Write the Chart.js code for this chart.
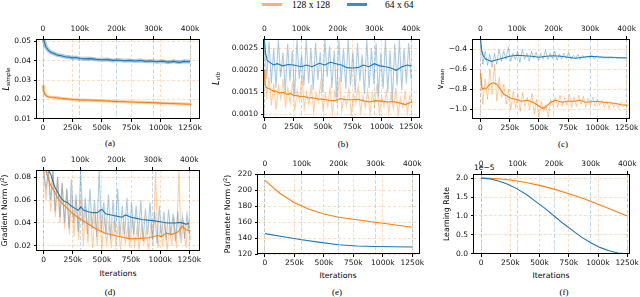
<!DOCTYPE html>
<html>
<head>
<meta charset="utf-8">
<script src="https://cdn.jsdelivr.net/npm/chart.js@4.4.0/dist/chart.umd.min.js"></script>
<style>
  body { margin: 0; background: #fff; }
  #fig { position: relative; width: 640px; height: 297px; overflow: hidden; font-family: "DejaVu Sans", sans-serif; }
  #fig canvas { position: absolute; }
  .cap { position: absolute; font-family: "Liberation Serif", serif; font-size: 9px; transform: translate(-50%, -50%); white-space: nowrap; }
  .xl { position: absolute; font-size: 7.8px; transform: translate(-50%, -50%); white-space: nowrap; }
  .sw { position: absolute; height: 3px; width: 20px; }
  .lt { position: absolute; font-family: "Liberation Serif", serif; font-size: 9.5px; transform: translateY(-50%); white-space: nowrap; }
  .off { position: absolute; font-size: 7.5px; transform: translateY(-50%); white-space: nowrap; }
</style>
</head>
<body>
<div id="fig">
  <div class="sw" style="left:262px; top:3px; background:rgba(255,127,14,0.6)"></div>
  <div class="lt" style="left:292px; top:5px">128 x 128</div>
  <div class="sw" style="left:347px; top:3px; background:rgba(31,119,180,0.85)"></div>
  <div class="lt" style="left:385px; top:5px">64 x 64</div>

  <div class="cap" style="left:110px; top:143px">(a)</div>
  <div class="cap" style="left:343px; top:144px">(b)</div>
  <div class="cap" style="left:563px; top:144px">(c)</div>
  <div class="cap" style="left:110px; top:292px">(d)</div>
  <div class="cap" style="left:337px; top:292px">(e)</div>
  <div class="cap" style="left:564px; top:292px">(f)</div>

  <div class="xl" style="left:118px; top:273px">Iterations</div>
  <div class="xl" style="left:338px; top:275px">Iterations</div>
  <div class="xl" style="left:551px; top:275px">Iterations</div>
  <div class="off" style="left:474px; top:167px">1e−5</div>
</div>
<script>
'use strict'

const ORANGE = '#ff7f0e';
const BLUE = '#1f77b4';
const ORANGE_L = 'rgba(255,127,14,0.38)';
const BLUE_L = 'rgba(31,119,180,0.38)';

// x ticks, thousands of iterations: bottom = 128x128, top = 64x64
const bottomTicks = [0, 250, 500, 750, 1000, 1250];
const topTicks = [0, 100, 200, 300, 400];
const TOP_RATIO = 0.32; // 400k on top lines up with 1250k on bottom

// raw log spacing (k iterations)
const rawStepOrange = 20;
const rawStepBlue = 6.35;

// (a) L_simple
const aTicks = [0.01, 0.02, 0.03, 0.04, 0.05];
const aOrangeX = [0, 5, 15, 30, 50, 75, 100, 150, 200, 250, 300, 400, 500, 600, 700, 800, 900, 1000, 1100, 1200, 1260];
const aOrangeY = [0.0272, 0.0245, 0.0228, 0.0218, 0.0213, 0.0211, 0.0210, 0.0206, 0.0203, 0.0200, 0.0198, 0.0196, 0.0193, 0.0190, 0.0188, 0.0186, 0.0184, 0.0181, 0.0179, 0.0177, 0.0175];
const aBlueX = [0, 3, 8, 15, 22, 30, 40, 50, 60, 70, 80, 90, 100, 115, 130, 145, 160, 175, 190, 205, 220, 235, 250, 265, 280, 295, 310, 325, 340, 355, 370, 385, 400];
const aBlueY = [0.054, 0.050, 0.0470, 0.0452, 0.0442, 0.0436, 0.0428, 0.0425, 0.0420, 0.0418, 0.0414, 0.0416, 0.0411, 0.0409, 0.0410, 0.0406, 0.0404, 0.0405, 0.0401, 0.0403, 0.0399, 0.0401, 0.0398, 0.0400, 0.0396, 0.0398, 0.0394, 0.0397, 0.0392, 0.0396, 0.0391, 0.0396, 0.0394];

// (b) L_vlb
const bTicks = [0.0010, 0.0015, 0.0020, 0.0025];
const bOrangeX = [0, 5, 10, 20, 40, 60, 80, 100, 130, 160, 190, 220, 250, 280, 310, 340, 370, 400, 450, 500, 550, 600, 650, 700, 750, 800, 850, 900, 950, 1000, 1050, 1100, 1150, 1200, 1230, 1260];
const bOrangeY = [0.00200, 0.00170, 0.00163, 0.00160, 0.00158, 0.00155, 0.00152, 0.00153, 0.00148, 0.00150, 0.00145, 0.00147, 0.00143, 0.00142, 0.00140, 0.00141, 0.00137, 0.00138, 0.00135, 0.00134, 0.00132, 0.00131, 0.00136, 0.00133, 0.00133, 0.00134, 0.00130, 0.00128, 0.00131, 0.00130, 0.00128, 0.00129, 0.00126, 0.00122, 0.00125, 0.00128];
const bBlueX = [0, 3, 8, 15, 25, 35, 50, 65, 80, 100, 115, 130, 150, 165, 180, 195, 210, 225, 240, 255, 270, 285, 300, 315, 330, 345, 360, 375, 390, 400];
const bBlueY = [0.00270, 0.00240, 0.00222, 0.00218, 0.00212, 0.00215, 0.00210, 0.00213, 0.00212, 0.00208, 0.00212, 0.00208, 0.00216, 0.00212, 0.00218, 0.00215, 0.00212, 0.00206, 0.00205, 0.00206, 0.00212, 0.00208, 0.00215, 0.00210, 0.00208, 0.00205, 0.00200, 0.00208, 0.00212, 0.00210];
const bOrangeRaw = [0.00200, 0.00140, 0.00185, 0.00120, 0.00170, 0.00110, 0.00165, 0.00135, 0.00180, 0.00115,
  0.00160, 0.00125, 0.00175, 0.00108, 0.00155, 0.00130, 0.00190, 0.00112, 0.00150, 0.00122,
  0.00168, 0.00105, 0.00148, 0.00128, 0.00172, 0.00110, 0.00145, 0.00118, 0.00160, 0.00102,
  0.00150, 0.00125, 0.00185, 0.00108, 0.00140, 0.00120, 0.00158, 0.00100, 0.00145, 0.00126,
  0.00165, 0.00105, 0.00142, 0.00115, 0.00155, 0.00102, 0.00148, 0.00120, 0.00170, 0.00100,
  0.00140, 0.00118, 0.00152, 0.00104, 0.00145, 0.00112, 0.00160, 0.00098, 0.00138, 0.00115,
  0.00150, 0.00103, 0.00142, 0.00125];
const bBlueRaw = [0.00270, 0.00180, 0.00265, 0.00170, 0.00250, 0.00160, 0.00270, 0.00185, 0.00240, 0.00150,
  0.00260, 0.00175, 0.00245, 0.00140, 0.00270, 0.00180, 0.00235, 0.00165, 0.00270, 0.00170,
  0.00250, 0.00155, 0.00262, 0.00178, 0.00240, 0.00150, 0.00270, 0.00185, 0.00255, 0.00160,
  0.00245, 0.00138, 0.00268, 0.00172, 0.00250, 0.00158, 0.00270, 0.00165, 0.00242, 0.00150,
  0.00262, 0.00175, 0.00235, 0.00145, 0.00270, 0.00160, 0.00250, 0.00170, 0.00262, 0.00140,
  0.00240, 0.00158, 0.00270, 0.00150, 0.00245, 0.00130, 0.00260, 0.00165, 0.00270, 0.00155,
  0.00250, 0.00170, 0.00262, 0.00180];

// (c) v_mean
const cTicks = [-1.0, -0.8, -0.6, -0.4];
const cOrangeX = [0, 8, 15, 30, 50, 80, 110, 140, 170, 200, 230, 260, 300, 350, 400, 450, 500, 530, 560, 600, 640, 700, 750, 800, 850, 900, 950, 1000, 1050, 1100, 1150, 1200, 1260];
const cOrangeY = [-0.64, -0.72, -0.80, -0.79, -0.79, -0.75, -0.735, -0.75, -0.80, -0.85, -0.87, -0.89, -0.90, -0.92, -0.91, -0.93, -0.97, -0.99, -0.975, -0.93, -0.91, -0.93, -0.92, -0.92, -0.91, -0.93, -0.925, -0.92, -0.93, -0.935, -0.94, -0.955, -0.96];
const cBlueX = [0, 3, 6, 10, 15, 22, 30, 40, 50, 60, 80, 100, 120, 140, 160, 180, 200, 220, 240, 260, 280, 300, 320, 340, 360, 380, 400];
const cBlueY = [-0.30, -0.40, -0.45, -0.48, -0.50, -0.51, -0.52, -0.51, -0.50, -0.49, -0.47, -0.46, -0.465, -0.47, -0.48, -0.47, -0.465, -0.47, -0.48, -0.49, -0.48, -0.47, -0.475, -0.48, -0.48, -0.485, -0.485];
const cOrangeRaw = [-0.62, -0.95, -0.70, -0.90, -0.60, -0.85, -0.55, -0.92, -0.68, -0.88,
  -0.75, -0.95, -0.80, -1.00, -0.82, -0.98, -0.85, -1.02, -0.83, -0.97,
  -0.88, -1.00, -0.84, -1.05, -0.90, -1.08, -0.92, -1.02, -0.95, -1.08,
  -0.90, -0.96, -0.88, -0.98, -0.86, -0.97, -0.88, -0.96, -0.85, -0.98,
  -0.88, -0.97, -0.86, -0.95, -0.87, -0.98, -0.89, -0.96, -0.88, -0.97,
  -0.90, -0.96, -0.91, -0.98, -0.92, -0.99, -0.93, -0.98, -0.94, -0.99,
  -0.93, -0.98, -0.95, -0.97];
const cBlueRaw = [-0.30, -0.55, -0.42, -0.56, -0.45, -0.58, -0.44, -0.55, -0.40, -0.52,
  -0.42, -0.50, -0.38, -0.52, -0.44, -0.50, -0.42, -0.53, -0.40, -0.50,
  -0.44, -0.52, -0.42, -0.49, -0.43, -0.51, -0.44, -0.50, -0.41, -0.50,
  -0.44, -0.49, -0.42, -0.51, -0.45, -0.50, -0.44, -0.49, -0.43, -0.50,
  -0.46, -0.49, -0.45, -0.50, -0.46, -0.49, -0.47, -0.49, -0.46, -0.50,
  -0.47, -0.49, -0.48, -0.49, -0.48, -0.49, -0.48, -0.49, -0.48, -0.49,
  -0.485, -0.49, -0.485, -0.49];

// (d) gradient norm
const dTicks = [0.02, 0.04, 0.06, 0.08];
const dOrangeX = [0, 15, 35, 60, 90, 120, 150, 200, 250, 320, 400, 460, 530, 630, 700, 750, 830, 900, 980, 1010, 1050, 1100, 1150, 1190, 1220, 1260];
const dOrangeY = [0.095, 0.088, 0.080, 0.073, 0.068, 0.062, 0.058, 0.053, 0.048, 0.043, 0.038, 0.034, 0.031, 0.0285, 0.027, 0.026, 0.0265, 0.027, 0.029, 0.028, 0.031, 0.030, 0.032, 0.037, 0.034, 0.033];
const dBlueX = [0, 10, 19, 30, 40, 47, 56, 65, 75, 85, 95, 102, 110, 120, 135, 147, 160, 170, 185, 200, 215, 225, 240, 255, 270, 285, 300, 320, 340, 360, 375, 390, 400];
const dBlueY = [0.095, 0.088, 0.083, 0.072, 0.066, 0.062, 0.059, 0.058, 0.055, 0.053, 0.051, 0.054, 0.051, 0.050, 0.049, 0.049, 0.052, 0.048, 0.047, 0.046, 0.045, 0.047, 0.045, 0.044, 0.043, 0.0425, 0.042, 0.041, 0.040, 0.040, 0.0405, 0.039, 0.0395];
const dOrangeRaw = [0.086, 0.060, 0.086, 0.050, 0.086, 0.045, 0.080, 0.040, 0.075, 0.035,
  0.070, 0.030, 0.065, 0.028, 0.060, 0.025, 0.062, 0.020, 0.055, 0.022,
  0.050, 0.018, 0.048, 0.020, 0.052, 0.016, 0.045, 0.022, 0.040, 0.018,
  0.042, 0.020, 0.038, 0.016, 0.040, 0.022, 0.036, 0.018, 0.045, 0.020,
  0.035, 0.017, 0.038, 0.022, 0.034, 0.016, 0.040, 0.020, 0.086, 0.018,
  0.036, 0.022, 0.040, 0.016, 0.038, 0.020, 0.045, 0.018, 0.086, 0.022,
  0.040, 0.018, 0.042, 0.025];
const dBlueRaw = [0.086, 0.070, 0.086, 0.060, 0.086, 0.050, 0.080, 0.045, 0.075, 0.040,
  0.070, 0.035, 0.078, 0.040, 0.065, 0.032, 0.086, 0.038, 0.062, 0.030,
  0.070, 0.035, 0.060, 0.028, 0.086, 0.033, 0.058, 0.030, 0.065, 0.026,
  0.060, 0.032, 0.070, 0.028, 0.055, 0.030, 0.062, 0.025, 0.058, 0.030,
  0.055, 0.028, 0.060, 0.024, 0.052, 0.030, 0.058, 0.026, 0.050, 0.022,
  0.055, 0.028, 0.050, 0.025, 0.052, 0.030, 0.048, 0.024, 0.050, 0.028,
  0.046, 0.026, 0.048, 0.030];

// (e) parameter norm
const eTicks = [120, 140, 160, 180, 200, 220];
const eOrangeX = [0, 125, 250, 375, 500, 625, 750, 875, 1000, 1125, 1250];
const eOrangeY = [212, 196, 184, 176, 170, 166, 163.5, 161, 158.5, 156, 153.5];
const eBlueX = [0, 50, 100, 150, 200, 250, 300, 350, 400];
const eBlueY = [145.5, 141.5, 137.9, 134.5, 131.6, 130, 129.4, 129, 128.8];

// (f) learning rate, units of 1e-5
const fTicks = [0.0, 0.5, 1.0, 1.5, 2.0];
const fOrangeX = [0, 125, 250, 375, 500, 625, 750, 875, 1000, 1125, 1250];
const fOrangeY = [2.0, 1.99, 1.95, 1.89, 1.81, 1.71, 1.59, 1.46, 1.31, 1.16, 1.0];
const fBlueX = [0, 25, 50, 75, 100, 125, 150, 175, 200, 225, 250, 275, 300, 325, 350, 375, 400];
const fBlueY = [2.0, 1.98, 1.92, 1.83, 1.71, 1.56, 1.38, 1.20, 1.0, 0.80, 0.62, 0.44, 0.29, 0.17, 0.08, 0.02, 0.0];

const fig = document.getElementById('fig');
const panelCfg = {};
const Y_W = 62, TOP_H = 26, BOT_H = 18, PAD_R = 14;
const tickFont = { family: 'DejaVu Sans', size: 7.5 };

const pts = (xs, ys) => xs.map((x, i) => ({ x, y: ys[i] }));
const rawPts = (ys, step) => ys.map((y, i) => ({ x: i * step, y }));
const kLabel = v => v === 0 ? '0' : v + 'k';

function line(data, color, width, axis, order) {
  return { data, borderColor: color, borderWidth: width, xAxisID: axis, pointRadius: 0, tension: 0, clip: 0, order, fill: false };
}

// frame + y label with sub/superscripts
const figurePlugin = {
  id: 'figure',
  afterDatasetsDraw(chart) {
    const { ctx, chartArea: a } = chart;
    ctx.save();
    ctx.strokeStyle = '#000';
    ctx.lineWidth = 1;
    ctx.strokeRect(Math.round(a.left) - 0.5, Math.round(a.top) + 0.5, Math.round(a.right - a.left) + 1, Math.round(a.bottom - a.top) - 1);
    ctx.restore();
  },
  afterDraw(chart) {
    const cfg = panelCfg[chart.canvas.id];
    if (!cfg) return;
    const { ctx, chartArea: a } = chart;
    ctx.save();
    ctx.translate(cfg.ylabX - (cfg.l - Y_W), (a.top + a.bottom) / 2);
    ctx.rotate(-Math.PI / 2);
    ctx.fillStyle = '#000';
    ctx.textBaseline = 'middle';
    let total = 0;
    cfg.ylab.forEach(p => { ctx.font = p[1]; total += ctx.measureText(p[0]).width; });
    let x = -total / 2;
    cfg.ylab.forEach(p => {
      ctx.font = p[1];
      ctx.fillText(p[0], x, p[2] || 0);
      x += ctx.measureText(p[0]).width;
    });
    ctx.restore();
  }
};

function makePanel(p) {
  panelCfg[p.id] = p;
  const W = p.r - p.l + Y_W + PAD_R;
  const H = p.b - p.t + TOP_H + BOT_H;
  const cv = document.createElement('canvas');
  cv.id = p.id;
  cv.width = W;
  cv.height = H;
  cv.style.left = (p.l - Y_W) + 'px';
  cv.style.top = (p.t - TOP_H) + 'px';
  cv.style.width = W + 'px';
  cv.style.height = H + 'px';
  fig.appendChild(cv);

  const tickMark = { tickColor: '#000', tickLength: 3, tickWidth: 1, lineWidth: 0.8 };

  new Chart(cv, {
    type: 'line',
    data: { datasets: p.datasets },
    plugins: [figurePlugin],
    options: {
      responsive: false,
      animation: false,
      layout: { padding: { left: 0, right: PAD_R, top: 0, bottom: 0 } },
      plugins: { legend: { display: false }, tooltip: { enabled: false } },
      scales: {
        x: {
          type: 'linear', position: 'bottom', bounds: 'data', min: p.xMin, max: p.xMax,
          afterBuildTicks: s => { s.ticks = bottomTicks.map(v => ({ value: v })); },
          afterFit: s => { s.height = BOT_H; },
          ticks: { autoSkip: false, maxRotation: 0, padding: 2, font: tickFont, color: '#111', callback: kLabel },
          grid: Object.assign({ color: 'rgba(255,127,14,0.35)' }, tickMark),
          border: { display: false, dash: [3, 2] }
        },
        x2: {
          type: 'linear', position: 'top', bounds: 'data', min: p.xMin * TOP_RATIO, max: p.xMax * TOP_RATIO,
          afterBuildTicks: s => { s.ticks = topTicks.map(v => ({ value: v })); },
          afterFit: s => { s.height = TOP_H; },
          ticks: { autoSkip: false, maxRotation: 0, padding: 2.5, font: tickFont, color: '#111', callback: kLabel },
          grid: Object.assign({ color: 'rgba(31,119,180,0.35)' }, tickMark),
          border: { display: false, dash: [4, 2] }
        },
        y: {
          type: 'linear', position: 'left', bounds: 'data', min: p.yMin, max: p.yMax,
          afterBuildTicks: s => { s.ticks = p.yTicks.map(v => ({ value: v })); },
          afterFit: s => { s.width = Y_W; },
          ticks: { autoSkip: false, padding: 3, font: tickFont, color: '#111', callback: p.yFmt },
          grid: Object.assign({ color: 'rgba(255,127,14,0.35)' }, tickMark),
          border: { display: false, dash: [3, 2] }
        }
      }
    }
  });
}

const fmt = d => v => (v < 0 ? '\u2212' : '') + Math.abs(v).toFixed(d);
const F_MAIN = '7.8px "DejaVu Sans"';
const F_IT = 'italic 8px "DejaVu Sans"';
const F_SUB = 'italic 5.6px "DejaVu Sans"';
const F_SUP = '5.4px "DejaVu Sans"';

makePanel({
  id: 'pa', l: 37, t: 39, r: 199, b: 119, xMin: -51, xMax: 1326, yMin: 0.00995, yMax: 0.0511,
  yTicks: aTicks, yFmt: fmt(2), ylabX: 7,
  ylab: [['L', F_IT], ['simple', F_SUB, 1.8]],
  datasets: [
    line(pts(aBlueX, aBlueY), BLUE, 1.1, 'x2', 1),
    line(pts(aOrangeX, aOrangeY), ORANGE, 1.1, 'x', 2),
    line(pts(aBlueX, aBlueY), BLUE_L, 4, 'x2', 3),
    line(pts(aOrangeX, aOrangeY), ORANGE_L, 3, 'x', 4)
  ]
});

makePanel({
  id: 'pb', l: 264, t: 39, r: 419, b: 118, xMin: -3, xMax: 1318, yMin: 0.000916, yMax: 0.00271,
  yTicks: bTicks, yFmt: fmt(4), ylabX: 217,
  ylab: [['L', F_IT], ['vlb', F_SUB, 1.8]],
  datasets: [
    line(pts(bBlueX, bBlueY), BLUE, 1.1, 'x2', 1),
    line(pts(bOrangeX, bOrangeY), ORANGE, 1.1, 'x', 2),
    line(rawPts(bBlueRaw, rawStepBlue), BLUE_L, 1.1, 'x2', 3),
    line(rawPts(bOrangeRaw, rawStepOrange), ORANGE_L, 1.1, 'x', 4)
  ]
});

makePanel({
  id: 'pc', l: 473, t: 39, r: 629, b: 119, xMin: -64, xMax: 1270, yMin: -1.097, yMax: -0.297,
  yTicks: cTicks, yFmt: fmt(1), ylabX: 441,
  ylab: [['v', '8px "DejaVu Sans"'], ['mean', '5.6px "DejaVu Sans"', 1.8]],
  datasets: [
    line(pts(cBlueX, cBlueY), BLUE, 1.1, 'x2', 1),
    line(pts(cOrangeX, cOrangeY), ORANGE, 1.1, 'x', 2),
    line(rawPts(cBlueRaw, rawStepBlue), BLUE_L, 1, 'x2', 3),
    line(rawPts(cOrangeRaw, rawStepOrange), ORANGE_L, 1, 'x', 4)
  ]
});

makePanel({
  id: 'pd', l: 37, t: 170, r: 199, b: 251, xMin: -57, xMax: 1333, yMin: 0.0154, yMax: 0.0864,
  yTicks: dTicks, yFmt: fmt(2), ylabX: 5,
  ylab: [['Gradient Norm (', F_MAIN], ['l', 'italic 7.8px "DejaVu Sans"'], ['2', F_SUP, -2.6], [')', F_MAIN]],
  datasets: [
    line(pts(dBlueX, dBlueY), BLUE, 1.1, 'x2', 1),
    line(pts(dOrangeX, dOrangeY), ORANGE, 1.1, 'x', 2),
    line(rawPts(dBlueRaw, rawStepBlue), BLUE_L, 1.1, 'x2', 3),
    line(rawPts(dOrangeRaw, rawStepOrange), ORANGE_L, 1.1, 'x', 4)
  ]
});

makePanel({
  id: 'pe', l: 258, t: 174, r: 419, b: 254, xMin: -59, xMax: 1307, yMin: 120, yMax: 220,
  yTicks: eTicks, yFmt: fmt(0), ylabX: 228,
  ylab: [['Parameter Norm (', F_MAIN], ['l', 'italic 7.8px "DejaVu Sans"'], ['2', F_SUP, -2.6], [')', F_MAIN]],
  datasets: [
    line(pts(eBlueX, eBlueY), BLUE, 1.1, 'x2', 1),
    line(pts(eOrangeX, eOrangeY), ORANGE, 1.1, 'x', 2)
  ]
});

makePanel({
  id: 'pf', l: 474, t: 174, r: 629, b: 254, xMin: -60, xMax: 1265, yMin: -0.005, yMax: 2.11,
  yTicks: fTicks, yFmt: fmt(1), ylabX: 447,
  ylab: [['Learning Rate', F_MAIN]],
  datasets: [
    line(pts(fBlueX, fBlueY), BLUE, 1.1, 'x2', 1),
    line(pts(fOrangeX, fOrangeY), ORANGE, 1.1, 'x', 2)
  ]
});
</script>
</body>
</html>
